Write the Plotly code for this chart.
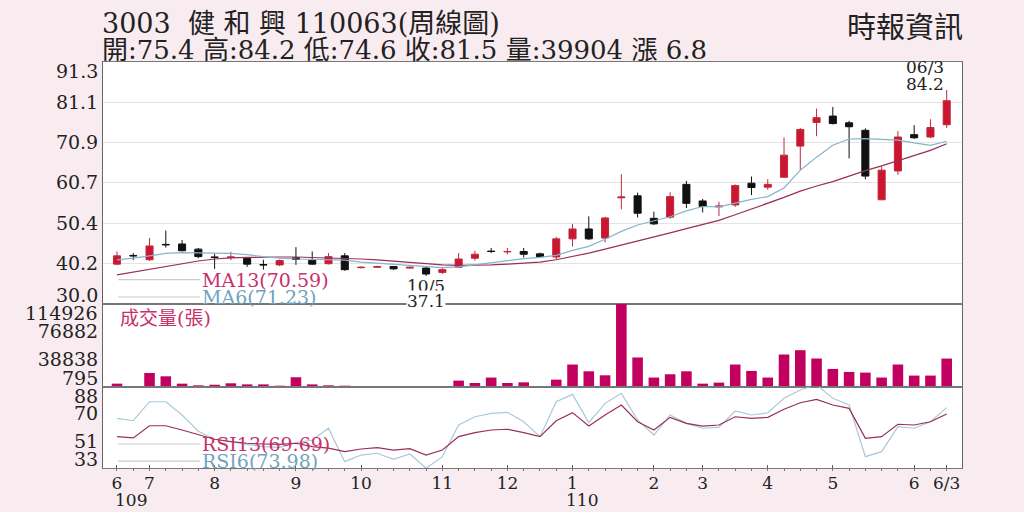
import plotly.graph_objects as go
from plotly.subplots import make_subplots

# weekly candles 109/6 .. 110/6/3 (3003 健和興)
opens = [40.1, 42.3, 41.2, 45.1, 45.2, 43.9, 41.9, 41.8, 41.6, 40.0,
         39.9, 41.7, 41.1, 40.2, 42.2, 39.2, 39.3, 39.5, 39.1, 39.1,
         38.0, 39.3, 41.6, 43.4, 43.2, 43.3, 42.7, 41.9, 46.5, 49.0,
         46.7, 56.9, 57.4, 51.7, 52.0, 60.3, 56.1, 54.6, 55.1, 60.6,
         59.6, 62.1, 70.0, 76.0, 77.6, 75.9, 74.0, 56.4, 63.7, 72.9,
         72.3, 75.4]
highs = [43.3, 42.9, 46.7, 48.6, 46.2, 44.2, 42.7, 43.2, 41.9, 41.2,
         41.3, 44.4, 43.3, 42.9, 42.9, 39.5, 39.7, 39.6, 39.4, 39.4,
         39.3, 42.9, 43.5, 44.2, 44.2, 44.2, 43.0, 47.0, 50.3, 52.2,
         52.1, 62.9, 58.2, 53.4, 58.3, 61.2, 56.6, 55.9, 60.3, 62.3,
         61.6, 72.2, 74.6, 79.5, 79.9, 76.4, 74.5, 64.8, 73.8, 75.3,
         76.8, 84.2]
lows = [39.8, 41.1, 40.9, 44.3, 43.3, 41.6, 38.9, 41.1, 39.4, 38.7,
        39.6, 39.9, 39.9, 40.0, 38.4, 39.0, 39.2, 38.6, 39.0, 37.1,
        37.6, 39.1, 41.0, 42.9, 42.6, 41.8, 41.8, 41.2, 44.6, 46.2,
        45.6, 54.0, 51.9, 50.0, 51.6, 54.3, 53.2, 52.3, 54.6, 57.6,
        58.9, 62.0, 63.9, 72.5, 75.5, 66.9, 61.6, 56.3, 62.7, 71.8,
        72.0, 74.6]
closes = [42.2, 42.2, 44.7, 45.0, 43.5, 42.0, 41.8, 41.9, 40.1, 39.9,
          41.0, 41.3, 40.1, 42.0, 38.7, 39.3, 39.5, 38.9, 39.3, 37.6,
          38.7, 41.4, 42.6, 43.3, 43.3, 42.6, 42.0, 46.5, 49.0, 46.5,
          51.8, 57.1, 53.0, 50.3, 57.2, 55.5, 54.7, 54.8, 60.0, 59.5,
          60.3, 67.7, 74.2, 77.2, 75.7, 74.9, 62.4, 63.9, 72.3, 72.1,
          74.7, 81.5]
volumes = [5400, 900, 20100, 15500, 5400, 3100, 3900, 5900, 4400, 4400,
           2600, 14200, 4400, 3100, 2600, 1000, 900, 1700, 795, 1100,
           900, 9600, 6300, 13800, 6300, 7200, 2200, 10900, 31700, 22400,
           16900, 114926, 41400, 13800, 18300, 22400, 5400, 6800, 31700, 22900,
           13800, 45500, 51400, 40000, 25600, 21500, 20600, 13800, 31700, 16500,
           16500, 39904]
ma13 = [37.4, 38.1, 38.9, 39.6, 40.3, 40.9, 41.4, 41.7, 41.8, 41.9,
        41.9, 41.9, 41.8, 41.7, 41.6, 41.4, 41.2, 40.9, 40.6, 40.2,
        39.9, 39.8, 39.8, 39.9, 40.1, 40.3, 40.6, 41.2, 42.0, 42.9,
        43.9, 44.9, 45.9, 47.0, 48.0, 49.1, 50.1, 51.2, 52.6, 54.0,
        55.5, 57.0, 58.6, 59.9, 61.0, 62.4, 63.8, 65.0, 66.3, 67.5,
        68.9, 70.59]
ma6 = [41.2, 41.6, 42.2, 42.8, 43.0, 43.0, 42.9, 42.8, 42.5, 42.0,
       41.6, 41.4, 41.3, 41.3, 41.1, 40.6, 40.3, 40.1, 39.8, 39.5,
       39.2, 39.4, 39.9, 40.5, 41.0, 41.5, 41.8, 42.3, 43.6, 44.6,
       46.4, 48.4, 50.0, 51.1, 52.1, 53.6, 54.7, 54.6, 55.5, 56.5,
       57.2, 59.4, 63.9, 67.2, 70.2, 71.8, 71.9, 71.7, 71.5, 70.8,
       70.2, 71.23]
rsi13 = [54.3, 53.4, 61.7, 61.7, 58.8, 55.4, 52.5, 50.9, 49.8, 49.3,
         49.0, 49.8, 47.5, 46.5, 44.1, 45.9, 46.8, 45.2, 46.1, 41.8,
         45.2, 54.3, 57.0, 58.8, 59.3, 57.0, 54.3, 65.1, 70.6, 61.5,
         69.0, 75.8, 64.4, 58.8, 67.4, 63.3, 61.5, 62.2, 67.8, 66.7,
         67.4, 72.9, 77.3, 79.6, 75.8, 73.5, 53.2, 54.3, 62.7, 62.2,
         64.4, 69.69]
rsi6 = [66.7, 65.1, 78.0, 78.0, 69.0, 58.0, 52.5, 50.5, 49.0, 47.5,
        47.0, 50.0, 52.0, 60.0, 37.3, 41.8, 43.0, 38.9, 42.5, 32.8,
        40.7, 62.2, 67.8, 70.1, 70.8, 64.4, 54.3, 78.0, 83.0, 63.8,
        76.9, 83.7, 65.6, 55.4, 69.0, 63.3, 60.0, 60.6, 71.7, 69.0,
        70.5, 80.3, 86.0, 89.5, 80.3, 75.8, 40.7, 44.1, 61.1, 60.0,
        64.4, 73.98]
weeks = list(range(len(opens)))

month_pos = [0, 2, 6, 11, 15, 20, 24, 28, 33, 36, 40, 44, 49, 51]
month_text = ['6', '7', '8', '9', '10', '11', '12', '1', '2', '3', '4', '5', '6', '6/3']
year_pos = [0.85, 28.6]
year_text = ['109', '110']

price_ticks = [30.0, 40.2, 50.4, 60.7, 70.9, 81.1, 91.3]
vol_ticks = [795, 38838, 76882, 114926]
rsi_ticks = [33, 51, 70, 88]

low_date = '10/5'
last_date = '06/3'

SERIF = "DejaVu Serif, Noto Sans CJK TC, serif"
RED_TXT = '#c8306a'
BLUE_TXT = '#6fa3bd'


def inner_labels(ticks, fmt):
    return [fmt.format(v) if 0 < k < len(ticks) - 1 else '' for k, v in enumerate(ticks)]


fig = make_subplots(rows=3, cols=1, shared_xaxes=True, vertical_spacing=0,
                    row_heights=[242, 83, 81])

fig.add_trace(go.Scatter(x=weeks, y=ma13, mode='lines', line=dict(color='#9a2f55', width=1.2)), row=1, col=1)
fig.add_trace(go.Scatter(x=weeks, y=ma6, mode='lines', line=dict(color='#86b4cb', width=1.2)), row=1, col=1)
fig.add_trace(go.Candlestick(
    x=weeks, open=opens, high=highs, low=lows, close=closes, whiskerwidth=0,
    increasing=dict(fillcolor='#cc1530', line=dict(color='#c0283c', width=1)),
    decreasing=dict(fillcolor='#111111', line=dict(color='#111111', width=1)),
), row=1, col=1)

fig.add_trace(go.Bar(x=weeks, y=volumes, width=0.65, marker=dict(color='#c1005f', line=dict(width=0))),
              row=2, col=1)

fig.add_trace(go.Scatter(x=weeks, y=rsi6, mode='lines', line=dict(color='#a9c9d9', width=1.2)), row=3, col=1)
fig.add_trace(go.Scatter(x=weeks, y=rsi13, mode='lines', line=dict(color='#9a2f55', width=1.2)), row=3, col=1)

tickfont = dict(family=SERIF, size=19, color='#222')
fig.update_xaxes(range=[-0.86, 51.94], showline=True, mirror=True, linecolor='#777', linewidth=1,
                 showgrid=False, zeroline=False, rangeslider_visible=False)
fig.update_xaxes(tickmode='array', tickvals=month_pos, ticktext=month_text, ticks='inside', ticklen=3,
                 tickcolor='#555', tickfont=dict(family=SERIF, size=17, color='#222'),
                 minor=dict(dtick=1, tick0=0, ticks='outside', ticklen=2, tickcolor='#777'),
                 row=3, col=1)
fig.update_yaxes(showline=True, mirror=True, linecolor='#666', linewidth=1, zeroline=False,
                 ticks='', tickfont=tickfont)
fig.update_yaxes(range=[30, 91.3], tickmode='array', tickvals=price_ticks,
                 ticktext=inner_labels(price_ticks, '{:.1f}'), showgrid=True, gridcolor='#e4e4e4',
                 row=1, col=1)
fig.update_yaxes(range=[795, 114926], tickmode='array', tickvals=vol_ticks,
                 ticktext=inner_labels(vol_ticks, '{}'), showgrid=False, row=2, col=1)
fig.update_yaxes(range=[33, 88], tickmode='array', tickvals=rsi_ticks,
                 ticktext=inner_labels(rsi_ticks, '{}'), showgrid=False, row=3, col=1)

ann = []
# edge tick labels pushed inside their panel
for ref, ticks, fmt in (('y', price_ticks, '{:.1f}'), ('y2', vol_ticks, '{}'), ('y3', rsi_ticks, '{}')):
    ann.append(dict(xref='paper', x=0, xanchor='right', xshift=-3, yref=ref, y=ticks[0], yshift=9,
                    text=fmt.format(ticks[0]), showarrow=False, font=tickfont))
    ann.append(dict(xref='paper', x=0, xanchor='right', xshift=-3, yref=ref, y=ticks[-1], yshift=-9,
                    text=fmt.format(ticks[-1]), showarrow=False, font=tickfont))

# header
ann.append(dict(xref='paper', yref='paper', x=-0.004, y=1.095, xanchor='left', yanchor='middle',
                text='3003  健 和 興 110063(周線圖)', showarrow=False,
                font=dict(family=SERIF, size=27, color='#222')))
ann.append(dict(xref='paper', yref='paper', x=-0.004, y=1.03, xanchor='left', yanchor='middle',
                text='開:%.1f 高:%.1f 低:%.1f 收:%.1f 量:%d 漲 %.1f' % (
                    opens[-1], highs[-1], lows[-1], closes[-1], volumes[-1], closes[-1] - closes[-2]),
                showarrow=False, font=dict(family=SERIF, size=26, color='#222')))
ann.append(dict(xref='paper', yref='paper', x=1.004, y=1.084, xanchor='right', yanchor='middle',
                text='時報資訊', showarrow=False, font=dict(family=SERIF, size=29, color='#222')))

# legends
legend_items = [('y domain', 0.101, 'MA13(%.2f)' % ma13[-1], RED_TXT),
                ('y domain', 0.029, 'MA6(%.2f)' % ma6[-1], BLUE_TXT),
                ('y3 domain', 0.296, 'RSI13(%.2f)' % rsi13[-1], RED_TXT),
                ('y3 domain', 0.086, 'RSI6(%.2f)' % rsi6[-1], BLUE_TXT)]
shapes = []
for ref, yy, txt, col in legend_items:
    shapes.append(dict(type='line', xref='paper', yref=ref, x0=0.0175, x1=0.113, y0=yy, y1=yy,
                       line=dict(color='#cccccc', width=1.2)))
    ann.append(dict(xref='paper', yref=ref, x=0.113, y=yy, xanchor='left', yanchor='middle',
                    text=txt, showarrow=False, font=dict(family=SERIF, size=19, color=col)))
ann.append(dict(xref='paper', yref='y2 domain', x=0.0175, y=0.83, xanchor='left', yanchor='middle',
                text='成交量(張)', showarrow=False, font=dict(family=SERIF, size=19, color=RED_TXT)))

# low / high marks
lo_i = lows.index(min(lows))
mark_font = dict(family=SERIF, size=17, color='#222')
ann.append(dict(xref='x', yref='y', x=lo_i, y=lows[lo_i], xanchor='center', yanchor='top', yshift=2,
                text=low_date, showarrow=False, font=mark_font))
ann.append(dict(xref='x', yref='y', x=lo_i, y=lows[lo_i], xanchor='center', yanchor='top', yshift=-14,
                text='%.1f' % lows[lo_i], showarrow=False, bgcolor='white', borderpad=0, font=mark_font))
hi_i = len(highs) - 1
ann.append(dict(xref='x', yref='y', x=hi_i, y=highs[hi_i], xanchor='center', yanchor='bottom', xshift=-22,
                yshift=-6, text='%.1f' % highs[hi_i], showarrow=False, font=mark_font))
ann.append(dict(xref='x', yref='y', x=hi_i, y=highs[hi_i], xanchor='center', yanchor='bottom', xshift=-22,
                yshift=11, text=last_date, showarrow=False, font=mark_font))

# year row under the months
for p, t in zip(year_pos, year_text):
    ann.append(dict(xref='x', yref='paper', x=p, y=-0.078, xanchor='center', yanchor='middle',
                    text=t, showarrow=False, font=dict(family=SERIF, size=17, color='#222')))

fig.update_layout(
    width=1024, height=512,
    margin=dict(l=103, r=62, t=62, b=44),
    paper_bgcolor='#f9ecf0', plot_bgcolor='white',
    showlegend=False, boxgap=0.38, bargap=0.35,
    annotations=ann, shapes=shapes,
    font=dict(family=SERIF),
)

fig.write_html("out.html", config={'displayModeBar': False},
               post_script="document.body.style.margin='0';")
